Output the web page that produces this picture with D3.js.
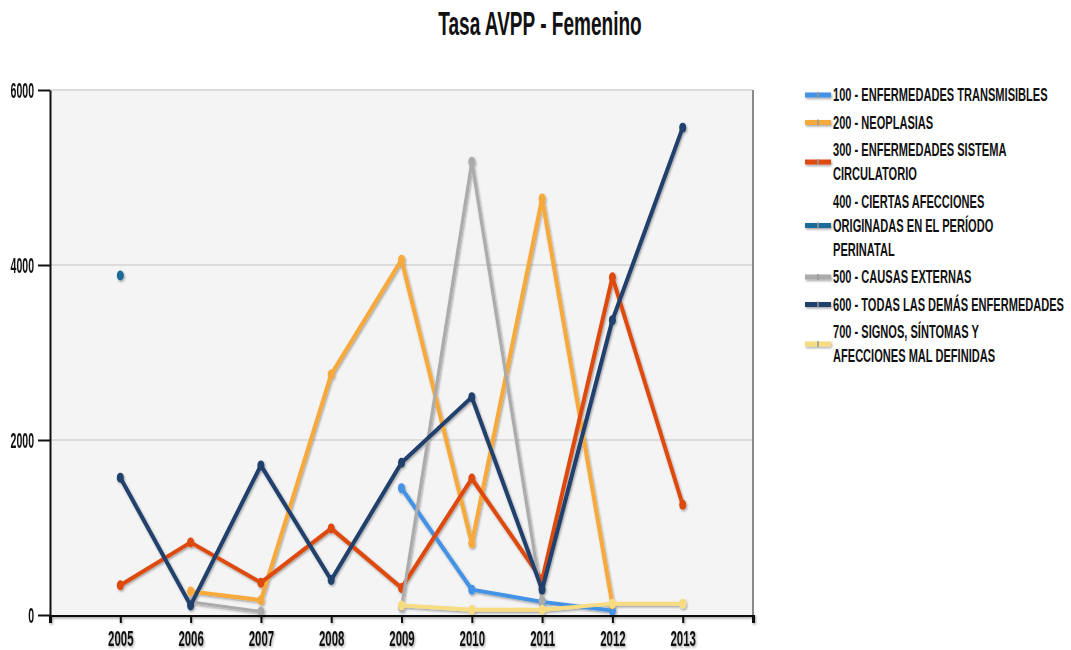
<!DOCTYPE html>
<html>
<head>
<meta charset="utf-8">
<script src="https://cdn.jsdelivr.net/npm/d3@7"></script>
<style>
  body { margin: 0; background: #fff; }
  text { font-family: "Liberation Sans", Arial, sans-serif; fill: #111; }
</style>
</head>
<body>
<svg id="chart" width="1071" height="650"></svg>
<script>
// data
var years = [2005, 2006, 2007, 2008, 2009, 2010, 2011, 2012, 2013];
var s100 = [null, null, null, null, 1450, 290, 150, 50, null];
var s200 = [null, 270, 170, 2750, 4060, 820, 4760, 120, null];
var s300 = [340, 830, 370, 990, 310, 1560, 400, 3860, 1260];
var s400 = [3880, null, null, null, null, null, null, null, null];
var s500 = [null, 150, 40, null, 90, 5180, 160, null, null];
var s600 = [1570, 110, 1710, 400, 1740, 2490, 290, 3370, 5570];
var s700 = [null, null, null, null, 110, 60, 60, 130, 130];
var yTicks = [0, 2000, 4000, 6000];
var title = "Tasa AVPP - Femenino";

var seriesNames = [
  ["100 - ENFERMEDADES TRANSMISIBLES"],
  ["200 - NEOPLASIAS"],
  ["300 - ENFERMEDADES SISTEMA", "CIRCULATORIO"],
  ["400 - CIERTAS AFECCIONES", "ORIGINADAS EN EL PERÍODO", "PERINATAL"],
  ["500 - CAUSAS EXTERNAS"],
  ["600 - TODAS LAS DEMÁS ENFERMEDADES"],
  ["700 - SIGNOS, SÍNTOMAS Y", "AFECCIONES MAL DEFINIDAS"]
];
var seriesValues = [s100, s200, s300, s400, s500, s600, s700];
var colors = ["#4392e6", "#f7aa3a", "#de4a10", "#1c6a98", "#ababab", "#203f6c", "#f7dc82"];

var svg = d3.select("#chart");

var defs = svg.append("defs");
var f = defs.append("filter").attr("id", "shadow")
    .attr("filterUnits", "userSpaceOnUse")
    .attr("x", 0).attr("y", 0).attr("width", 1071).attr("height", 650);
f.append("feDropShadow").attr("dx", 1).attr("dy", 1.5)
    .attr("stdDeviation", 1).attr("flood-color", "#000").attr("flood-opacity", 0.35);

var x = d3.scaleLinear().domain([2004, 2014]).range([50, 753]);
var y = d3.scaleLinear().domain([0, 6000]).range([615, 90]);

// plot background
svg.append("rect")
    .attr("x", x(2004)).attr("y", y(6000))
    .attr("width", x(2014) - x(2004)).attr("height", y(0) - y(6000))
    .attr("fill", "#f4f4f4");

// grid
svg.append("g").selectAll("line")
  .data(yTicks.slice(1))
  .enter().append("line")
    .attr("x1", x(2004)).attr("x2", x(2014))
    .attr("y1", function(d) { return y(d); })
    .attr("y2", function(d) { return y(d); })
    .attr("stroke", "#dcdcdc").attr("stroke-width", 2);

// right border
svg.append("line")
    .attr("x1", x(2014)).attr("x2", x(2014))
    .attr("y1", y(6000)).attr("y2", y(0))
    .attr("stroke", "#8a8a8a").attr("stroke-width", 2);

// title
svg.append("text")
    .attr("transform", "translate(540,35) scale(0.56,1)")
    .attr("text-anchor", "middle")
    .style("font-size", "34px")
    .style("font-weight", "bold")
    .text(title);

// lines
var line = d3.line()
    .defined(function(d) { return d.v != null; })
    .x(function(d) { return x(d.year); })
    .y(function(d) { return y(d.v); });

var series = seriesValues.map(function(vals, i) {
  return { name: seriesNames[i], color: colors[i],
           pts: vals.map(function(v, j) { return { year: years[j], v: v }; }) };
});

var sg = svg.append("g").attr("filter", "url(#shadow)")
  .selectAll(".serie")
  .data(series)
  .enter().append("g").attr("class", "serie");

sg.append("path")
    .attr("fill", "none")
    .attr("stroke", function(d) { return d.color; })
    .attr("stroke-width", function(d, i) { return i == 4 ? 3 : 4; })
    .attr("stroke-linejoin", "round")
    .attr("d", function(d) { return line(d.pts); });

sg.selectAll("ellipse")
  .data(function(d) { return d.pts.filter(function(p) { return p.v != null; })
                          .map(function(p) { p.color = d.color; return p; }); })
  .enter().append("ellipse")
    .attr("cx", function(d) { return x(d.year); })
    .attr("cy", function(d) { return y(d.v); })
    .attr("rx", 3.5).attr("ry", 5)
    .attr("fill", function(d) { return d.color; });

// axes
var xAxis = svg.append("g")
    .attr("transform", "translate(0," + y(0) + ")")
    .attr("filter", "url(#shadow)")
    .call(d3.axisBottom(x).tickValues(years).tickFormat(d3.format("d")).tickSize(8).tickSizeOuter(8));
xAxis.select(".domain").attr("stroke", "#111").attr("stroke-width", 3);
xAxis.selectAll(".tick line").attr("stroke", "#111").attr("stroke-width", 2);
xAxis.selectAll(".tick text")
    .attr("y", 0).attr("dy", 0)
    .attr("transform", "translate(0,31) scale(0.52,1)")
    .style("font-size", "22px").style("font-weight", "bold").attr("fill", "#111");

var yAxis = svg.append("g")
    .attr("transform", "translate(" + x(2004) + ",0)")
    .call(d3.axisLeft(y).tickValues(yTicks).tickFormat(d3.format("d")).tickSize(12).tickSizeOuter(0));
yAxis.select(".domain").attr("stroke", "#111").attr("stroke-width", 2);
yAxis.selectAll(".tick line").attr("stroke", "#111").attr("stroke-width", 2);
yAxis.selectAll(".tick text")
    .attr("x", 0).attr("dy", 0)
    .attr("transform", "translate(-16,7) scale(0.48,1)")
    .style("font-size", "22px").style("font-weight", "bold").attr("fill", "#111");

// legend
var lineH = 24, gap = 3.5, cursor = 95;
var legend = svg.append("g");
series.forEach(function(s) {
  var n = s.name.length;
  var mid = cursor + (n - 1) * lineH / 2;
  var item = legend.append("g");
  item.append("rect")
      .attr("x", 805).attr("width", 26)
      .attr("y", mid - 2.5).attr("height", 5)
      .attr("fill", s.color)
      .attr("filter", "url(#shadow)");
  item.append("line")
      .attr("x1", 818).attr("x2", 818)
      .attr("y1", mid - 3).attr("y2", mid + 3)
      .attr("stroke", "#999").attr("stroke-width", 1.5);
  s.name.forEach(function(t, k) {
    item.append("text")
        .attr("transform", "translate(833," + (cursor + k * lineH + 6) + ") scale(0.615,1)")
        .style("font-size", "18px").style("font-weight", "bold")
        .text(t);
  });
  cursor += n * lineH + gap;
});
</script>
</body>
</html>
